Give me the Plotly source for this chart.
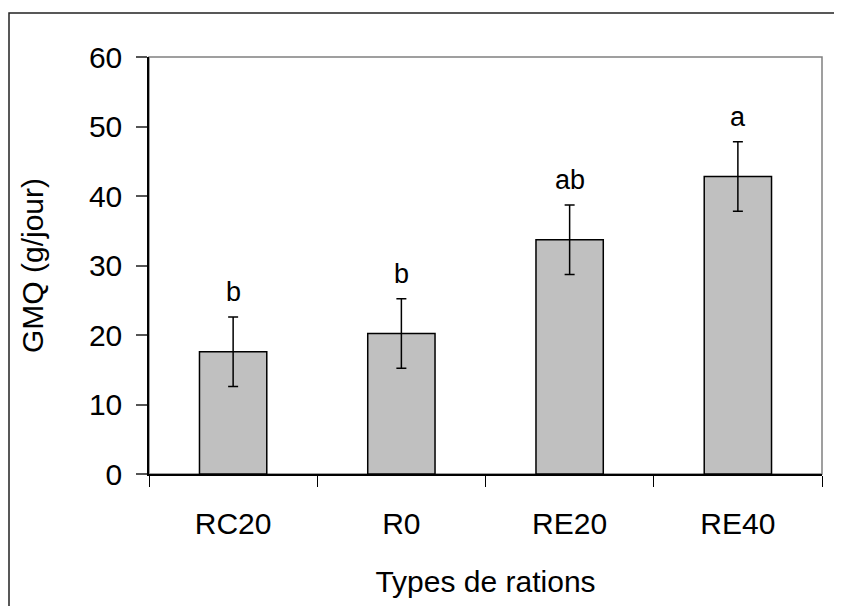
import plotly.graph_objects as go

categories = ["RC20", "R0", "RE20", "RE40"]
gmq_values = [17.6, 20.2, 33.7, 42.8]
gmq_errors = [5.0, 5.0, 5.0, 5.0]
group_letters = ["b", "b", "ab", "a"]
y_ticks = [0, 10, 20, 30, 40, 50, 60]

FONT = "Liberation Sans, Arial, sans-serif"
# the page body adds an 8px offset, so the figure is 8px smaller
W, H = 834, 598
L, R, T, B = 141, 20, 49, 132

fig = go.Figure()
fig.add_trace(go.Bar(
    x=categories, y=gmq_values,
    marker=dict(color="#C0C0C0", line=dict(color="black", width=1.5)),
    width=0.4,
    error_y=dict(type="data", array=gmq_errors, visible=True,
                 color="black", thickness=1.5, width=5),
    showlegend=False,
))

for cat, v, e, lab in zip(categories, gmq_values, gmq_errors, group_letters):
    fig.add_annotation(x=cat, y=v + e, text=lab, showarrow=False,
                       yanchor="bottom", yshift=8,
                       font=dict(family=FONT, size=27, color="black"))

pw = W - L - R
ph = H - T - B
# outer frame of the chart (extends beyond the page on right and bottom)
fig.add_shape(type="rect", xref="paper", yref="paper",
              x0=(1 - L) / pw, x1=(W + 10 - L) / pw,
              y0=-(H + 10 - T - ph) / ph, y1=1 + (T - 5) / ph,
              line=dict(color="#222222", width=1.5), layer="below")
# gray frame of plot area (top and right)
fig.add_shape(type="rect", xref="paper", yref="paper",
              x0=0, x1=1, y0=0, y1=1,
              line=dict(color="#808080", width=1.5), layer="below")

fig.update_layout(
    width=W, height=H,
    margin=dict(l=L, r=R, t=T, b=B),
    paper_bgcolor="white", plot_bgcolor="white",
    font=dict(family=FONT, size=30, color="black"),
    bargap=0.6,
)
fig.update_xaxes(
    showline=True, linecolor="black", linewidth=1.5,
    ticks="outside", ticklen=11, tickcolor="black", tickwidth=1,
    tickson="boundaries", showgrid=False,
    tickfont=dict(size=30), ticklabelstandoff=22,
    title=dict(text="Types de rations", font=dict(size=30), standoff=32),
)
fig.update_yaxes(
    range=[0, 60], tickvals=y_ticks,
    showline=True, linecolor="black", linewidth=1.5,
    ticks="outside", ticklen=11, tickcolor="#555555", tickwidth=1.5,
    showgrid=False, zeroline=False,
    tickfont=dict(size=30), ticklabelstandoff=8,
    title=dict(text="GMQ (g/jour)", font=dict(size=30), standoff=36),
)

fig.write_html("out.html")
